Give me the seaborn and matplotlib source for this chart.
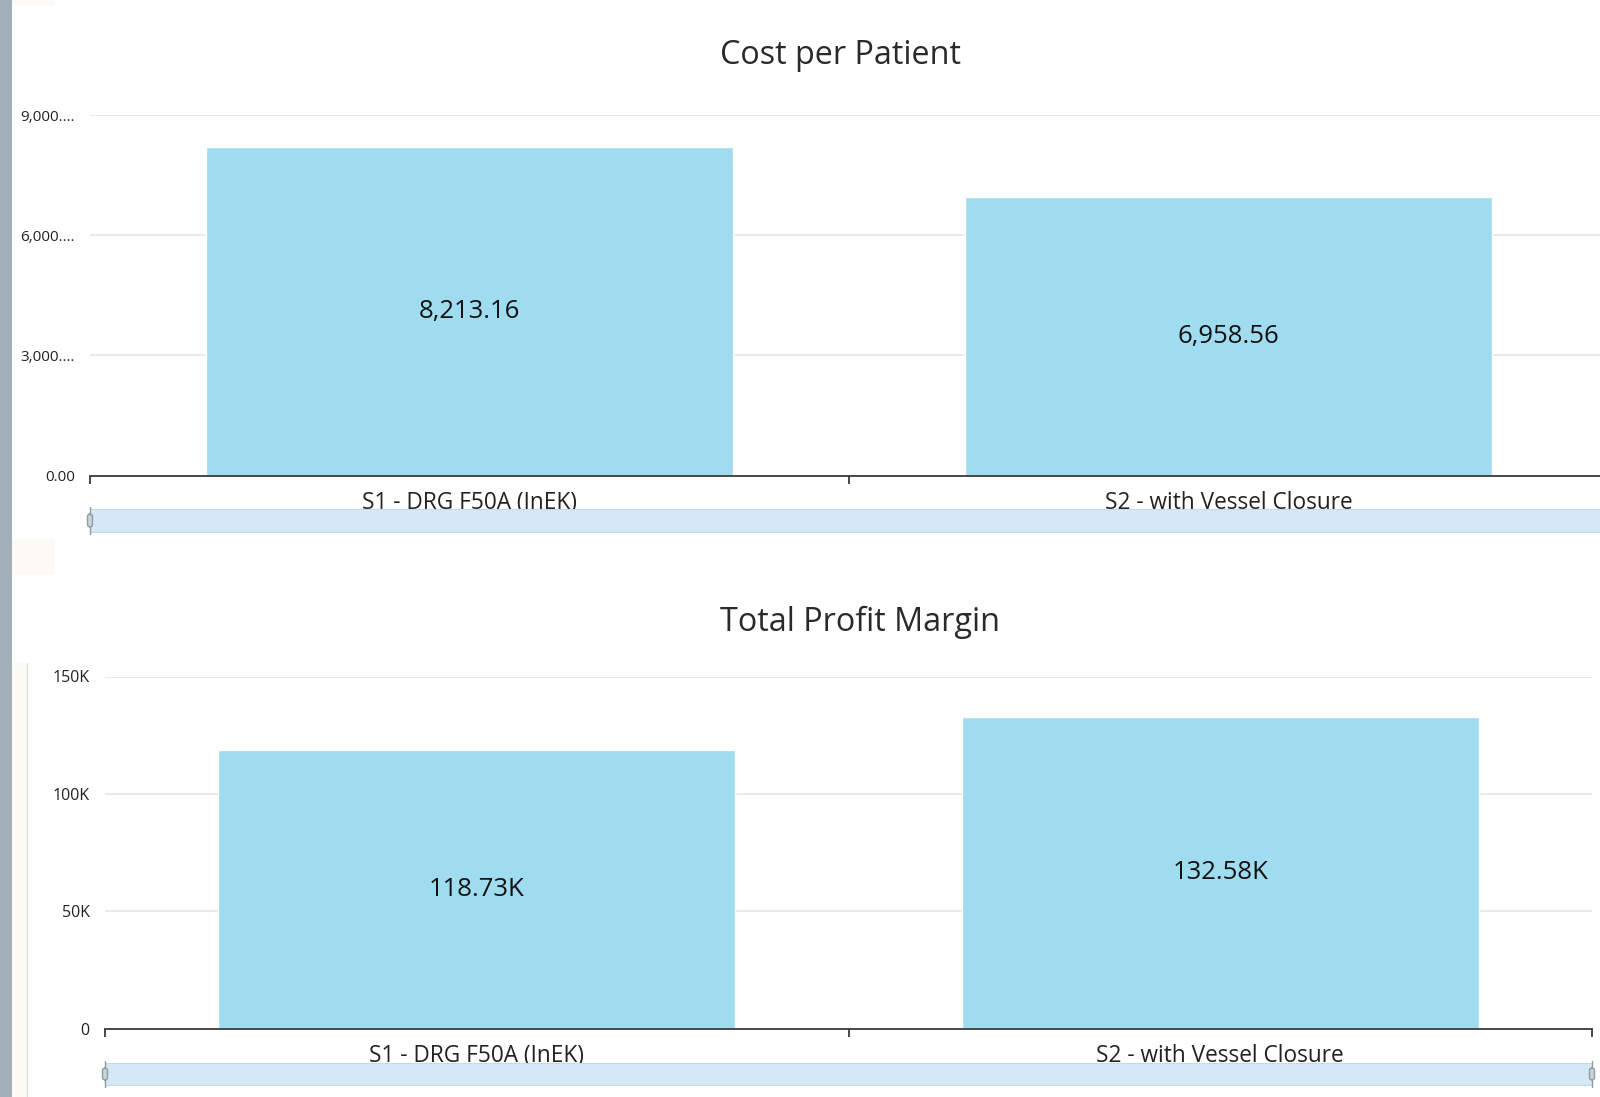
import matplotlib
matplotlib.use("Agg")
import matplotlib.pyplot as plt
from matplotlib.patches import Rectangle, FancyBboxPatch
from matplotlib.lines import Line2D
import seaborn as sns
import pandas as pd

# ---- data ----
categories = ["S1 - DRG F50A (InEK)", "S2 - with Vessel Closure"]
cost_per_patient = [8213.16, 6958.56]
total_profit_margin = [118730, 132580]
cost_ticks = [0, 3000, 6000, 9000]
cost_tick_labels = ["0.00", "3,000.\u2026", "6,000.\u2026", "9,000.\u2026"]
profit_ticks = [0, 50000, 100000, 150000]
profit_tick_labels = ["0", "50K", "100K", "150K"]
titles = ["Cost per Patient", "Total Profit Margin"]

sns.set_theme(style="white")
plt.rcParams["font.family"] = ["Open Sans", "DejaVu Sans"]

W, H = 1600, 1097
fig = plt.figure(figsize=(W / 100, H / 100), dpi=100)
fig.patch.set_facecolor("white")

BAR = "#a0dcef"
SCROLL = "#d4e9f5"
TXT = "#222222"


def fx(x):
    return x / W


def fy(y):
    return 1 - y / H


def rect_px(x0, y0, x1, y1, **kw):
    r = Rectangle((fx(x0), fy(y1)), fx(x1) - fx(x0), fy(y0) - fy(y1),
                  transform=fig.transFigure, **kw)
    fig.add_artist(r)
    return r


# background panels / frame pieces
rect_px(0, 0, 12, H, facecolor="#a2b1b9", edgecolor="none", zorder=0)
rect_px(12, 0, 55, 6, facecolor="#fcfaf5", edgecolor="none", zorder=0)
rect_px(12, 539, 55, 575, facecolor="#fcfaf5", edgecolor="none", zorder=0)
rect_px(12, 663, 27, H, facecolor="#fcfaf5", edgecolor="none", zorder=0)
fig.add_artist(Line2D([fx(27), fx(27)], [fy(663), fy(H)], color="#e0ddd6",
                      lw=0.8, transform=fig.transFigure))


def draw_panel(ax_rect, values, ticks, tick_labels, fmt, ylim, ytick_size):
    ax = fig.add_axes(ax_rect)
    df = pd.DataFrame({"cat": categories, "val": values})
    sns.barplot(data=df, x="cat", y="val", color=BAR, width=0.695,
                saturation=1, ax=ax, zorder=3)
    ax.set_xlim(-0.5, 1.5)
    ax.set_ylim(*ylim)
    ax.set_xlabel("")
    ax.set_ylabel("")
    ax.set_facecolor("none")
    for s in ["top", "right", "left"]:
        ax.spines[s].set_visible(False)
    ax.spines["bottom"].set_color("#3a3a3a")
    ax.spines["bottom"].set_linewidth(1.3)
    ax.spines["bottom"].set_zorder(4)
    ax.set_yticks(ticks)
    ax.set_yticklabels(tick_labels, fontsize=ytick_size, color=TXT)
    ax.tick_params(axis="y", length=0, pad=11)
    ax.yaxis.grid(True, color="#e6e6e6", lw=1.2, zorder=0)
    ax.xaxis.grid(False)
    ax.set_axisbelow(True)
    ax.set_xticks([0, 1])
    ax.set_xticklabels(categories, fontsize=16.3, color=TXT)
    ax.tick_params(axis="x", which="major", length=0, pad=11, bottom=True)
    ax.set_xticks([-0.5, 0.5, 1.5], minor=True)
    ax.tick_params(axis="x", which="minor", length=6, width=1.3,
                   color="#3a3a3a", direction="out", bottom=True)
    cont = ax.containers[0]
    ax.bar_label(cont, labels=[fmt(v) for v in values], label_type="center",
                 fontsize=18.5, color="#111111")
    return ax


def scrollbar(x0, x1, y0, y1, handles):
    rect_px(x0, y0, x1, y1, facecolor=SCROLL, edgecolor="#c4dcea", lw=0.8,
            zorder=1)
    for hx in handles:
        fig.add_artist(Line2D([fx(hx), fx(hx)], [fy(y0 - 2), fy(y1 + 2)],
                              color="#8e9ca4", lw=1.0,
                              transform=fig.transFigure, zorder=2))
        b = FancyBboxPatch((fx(hx - 2.5), fy(y1 - 5)), fx(5), (y1 - y0 - 10) / H,
                           boxstyle="round,pad=0,rounding_size=0.002",
                           transform=fig.transFigure, facecolor="#c9d3d8",
                           edgecolor="#8e9ca4", lw=1.0, zorder=3)
        fig.add_artist(b)


# top panel
draw_panel([fx(90), fy(475.5), (1608 - 90) / W, (475.5 - 115.3) / H],
           cost_per_patient, cost_ticks, cost_tick_labels,
           lambda v: f"{v:,.2f}", (0, 9000), 11)
fig.text(fx(840), fy(56), titles[0], ha="center", va="center", fontsize=23.3,
         color="#2a2a2a")
scrollbar(90, 1600, 509, 532, [90])

# bottom panel
draw_panel([fx(105), fy(1028.6), (1592 - 105) / W, (1028.6 - 676.5) / H],
           total_profit_margin, profit_ticks, profit_tick_labels,
           lambda v: f"{v / 1000:.2f}K", (0, 150000), 11.5)
fig.text(fx(860), fy(622), titles[1], ha="center", va="center", fontsize=23.3,
         color="#2a2a2a")
scrollbar(105, 1592, 1063, 1085, [105, 1592])

fig.savefig("out.png", dpi=100, facecolor="white")
